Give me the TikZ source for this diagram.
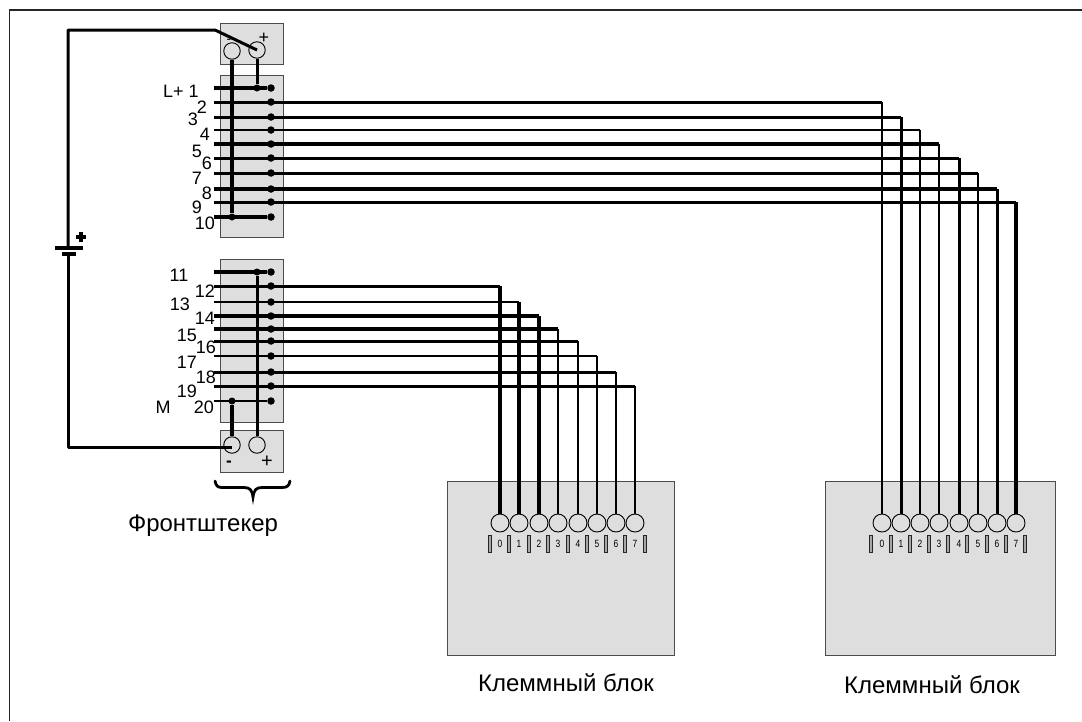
\documentclass[tikz,border=0pt]{standalone}
\usepackage{fontspec}
\setmainfont{Liberation Sans}
\tikzset{
 panel/.style={draw=black!70,fill=black!13,line width=.9pt},
 term/.style={circle,draw=black,line width=.9pt,minimum size=18pt,inner sep=0pt},
 bigterm/.style={circle,draw=black,line width=.9pt,minimum size=16.5pt,inner sep=0pt},
 dotn/.style={circle,fill=black,minimum size=7.5pt,inner sep=0pt},
 jn/.style={circle,fill=black,minimum size=7pt,inner sep=0pt},
 num/.style={font=\fontsize{18}{18}\selectfont,inner sep=0pt},
 captxt/.style={font=\fontsize{24}{24}\selectfont,inner sep=0pt},
 tinytxt/.style={font=\fontsize{10.5}{11}\selectfont,inner sep=0pt,xscale=.8},
 slot/.style={draw=black!85,fill=black!35,line width=.8pt,minimum width=3.5pt,minimum height=17pt,inner sep=0pt},
 wire/.style={line width=#1pt,black},
}
\begin{document}
\begin{tikzpicture}[x=1pt,y=-1pt]
\useasboundingbox (0,0) rectangle (1082,721);
\draw[black!85,line width=1.3pt] (9.5,721) -- (9.5,10) -- (1082,10);
% panels
\node[panel,minimum width=63pt,minimum height=41pt,inner sep=0pt] (ptop) at (251.5,44) {};
\node[panel,minimum width=63pt,minimum height=162pt,inner sep=0pt] (s1) at (251.5,156) {};
\node[panel,minimum width=63pt,minimum height=163pt,inner sep=0pt] (s2) at (251.5,340.5) {};
\node[panel,minimum width=63pt,minimum height=42pt,inner sep=0pt] (pbot) at (251.5,451) {};
\node[panel,minimum width=227pt,minimum height=174pt,inner sep=0pt] (b1) at (560.5,568) {};
\node[panel,minimum width=230pt,minimum height=174pt,inner sep=0pt] (b2) at (940,568) {};
% terminals
\node[bigterm] (tm) at (232,51) {};
\node[bigterm] (tp) at (257,50) {};
\node[bigterm] (bm) at (232,445) {};
\node[bigterm] (bp) at (257,445) {};
% rows
\foreach \i/\y in {1/88,2/102,3/117,4/130,5/144,6/158,7/173,8/189,9/202,10/217,11/272,12/286,13/302,14/316,15/329,16/341,17/356,18/372,19/386,20/401}{
 \coordinate (l\i) at (214,\y);
 \node[dotn] (d\i) at (271,\y) {};
}
% block terminals
\foreach \i/\x in {0/500,1/519,2/539,3/558,4/578,5/597,6/616,7/635}{
 \node[term] (a\i) at (\x,523) {};
 \node[tinytxt] at (\x,544) {\i};
}
\foreach \i/\x in {0/882,1/901,2/920,3/939,4/959,5/978,6/997,7/1016}{
 \node[term] (c\i) at (\x,523) {};
 \node[tinytxt] at (\x,544) {\i};
}
\foreach \x in {490,509,529,548,568,587,606,625,645,871,891,910,929,948,967,987,1006,1025}
 \node[slot] at (\x,544) {};
% wires: horizontal width \w, vertical width \v
\foreach \r/\t/\w/\v in {2/0/3/2.8,3/1/3/3,4/2/2.2/2.2,5/3/3.4/2.8,6/4/3/3,7/5/3/2.8,8/6/3.4/3,9/7/3/3.2}{
 \draw[wire=\w,line cap=square] (l\r) -- (l\r-|c\t);
 \draw[wire=\v] (l\r-|c\t) -- (c\t.north);
}
\foreach \r/\t/\w/\v in {12/0/3/3.6,13/1/2.2/3.6,14/2/3.4/3.6,15/3/3.4/2.2,16/4/3/2.2,17/5/2.2/2.2,18/6/3/2.2,19/7/3/2.2}{
 \draw[wire=\w,line cap=square] (l\r) -- (l\r-|a\t);
 \draw[wire=\v] (l\r-|a\t) -- (a\t.north);
}
\foreach \r/\w in {1/3.4,10/3.4,11/3.4,20/2.2}
 \draw[wire=\w] (l\r) -- (d\r);
% verticals
\node[jn] (j10) at (l10-|tm) {};
\node[jn] (j1) at (l1-|tp) {};
\node[jn] (j11) at (l11-|bp) {};
\node[jn] (j20) at (l20-|bm) {};
\draw[wire=3.6] (tm.south) -- (j10);
\draw[wire=3] (tp.south) -- (j1);
\draw[wire=3] (j11) -- (bp.north);
\draw[wire=3.6] (j20) -- (bm.north);
% battery
\coordinate (bat1) at (68,248);
\coordinate (bat2) at (68,253);
\coordinate (swa) at (215,30);
\coordinate (corn1) at (68,30);
\coordinate (corn2) at (68,447);
\draw[wire=3,line join=round] (tp.center) -- (swa) -- (corn1) -- (bat1);
\draw[wire=4] (55,248) -- (83,248);
\draw[wire=3.6] (62,254) -- (76,254);
\draw[wire=3,line join=round] (bat2) -- (corn2) -- (corn2-|bm);
\draw[wire=3.6] (81,232) -- (81,242) (76,237) -- (86,237);
% brace
\draw[wire=2.8,line cap=round] (215,481) .. controls (216,486) and (218,487.5) .. (222,487.5) -- (244,487.5) .. controls (250,487.5) and (252,490) .. (253,497) .. controls (254,490) and (256,487.5) .. (262,487.5) -- (282,487.5) .. controls (287,487.5) and (289,486) .. (290,481);
% texts
\node[num] at (181,91) {L+ 1};
\node[num] at (202,107) {2};
\node[num] at (193,119) {3};
\node[num] at (205,134) {4};
\node[num] at (197,151) {5};
\node[num] at (207,163) {6};
\node[num] at (197,178) {7};
\node[num] at (207,193) {8};
\node[num] at (197,207) {9};
\node[num] at (205,223) {10};
\node[num] at (179,275) {11};
\node[num] at (205,291) {12};
\node[num] at (180,304) {13};
\node[num] at (205,318) {14};
\node[num] at (187,335) {15};
\node[num] at (206,347) {16};
\node[num] at (187,362) {17};
\node[num] at (206,377) {18};
\node[num] at (187,391) {19};
\node[num] at (204,407) {20};
\node[num] at (163,407) {M};
\node[captxt] at (203,526) {Фронтштекер};
\node[captxt] at (566,683) {Клеммный блок};
\node[captxt] at (932,685) {Клеммный блок};
\node[num,font=\fontsize{17}{17}\selectfont\bfseries] at (229,464) {-};
\node[num,font=\fontsize{20}{20}\selectfont] at (267,462) {+};
\node[num,font=\fontsize{14}{14}\selectfont] at (229,41) {-};
\node[num,font=\fontsize{18}{18}\selectfont] at (264,38) {+};
\end{tikzpicture}
\end{document}
